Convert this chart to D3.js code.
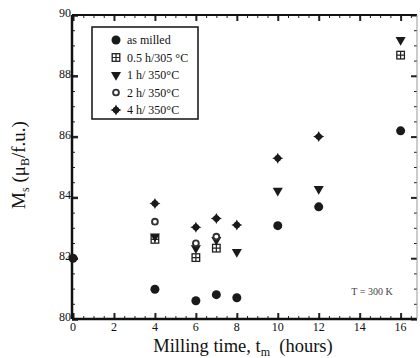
<!DOCTYPE html>
<html lang="en">
<head>
  <meta charset="UTF-8">
  <title>Ms vs milling time</title>
  <script src="https://d3js.org/d3.v7.min.js"></script>
  <style>
    body { margin: 0; background: #fff; }
  </style>
</head>
<body>
  <svg width="420" height="358"></svg>

  <script>
    // Data (time in hours, Ms in muB/f.u.)
    const asMilledT = [0, 4, 6, 7, 8, 10, 12, 16];
    const asMilledM = [82.0, 80.98, 80.6, 80.8, 80.7, 83.07, 83.69, 86.19];

    const h05T = [4, 6, 7, 16];
    const h05M = [82.62, 82.02, 82.33, 88.68];

    const h1T = [4, 6, 7, 8, 10, 12, 16];
    const h1M = [82.72, 82.33, 82.6, 82.21, 84.22, 84.28, 89.18];

    const h2T = [4, 6, 7];
    const h2M = [83.2, 82.49, 82.71];

    const h4T = [4, 6, 7, 8, 10, 12];
    const h4M = [83.8, 83.02, 83.31, 83.09, 85.29, 86.0];

    const seriesNames = ["as milled", "0.5 h/305 °C", "1 h/ 350°C", "2 h/ 350°C", "4 h/ 350°C"];
    const xTickValues = [0, 2, 4, 6, 8, 10, 12, 14, 16];
    const yTickValues = [80, 82, 84, 86, 88, 90];

    const FONT = "'Liberation Serif', 'DejaVu Serif', serif";

    const svg = d3.select("svg");
    const margin = {top: 15, right: 3, bottom: 39, left: 72};
    const width = +svg.attr("width");
    const height = +svg.attr("height");

    const x = d3.scaleLinear().domain([-0.05, 16.8]).range([margin.left, width - margin.right]);
    const y = d3.scaleLinear().domain([80, 90]).range([height - margin.bottom, margin.top]);

    // minor + major ticks on all four sides (inward)
    const xMinor = d3.range(0, 16.8, 0.5);
    const yMinor = d3.range(80, 90.01, 0.5);

    const gBottom = svg.append("g").attr("transform", `translate(0,${y(80)})`);
    gBottom.call(d3.axisTop(x).tickValues(xMinor).tickSize(3).tickFormat(""));
    gBottom.append("g").call(d3.axisTop(x).tickValues(xTickValues).tickSize(6).tickFormat(""))
      .selectAll("line").attr("stroke-width", 2);

    const gTop = svg.append("g").attr("transform", `translate(0,${y(90)})`);
    gTop.call(d3.axisBottom(x).tickValues(xMinor).tickSize(3).tickFormat(""));
    gTop.append("g").call(d3.axisBottom(x).tickValues(xTickValues).tickSize(6).tickFormat(""))
      .selectAll("line").attr("stroke-width", 2);

    const gLeft = svg.append("g").attr("transform", `translate(${x.range()[0]},0)`);
    gLeft.call(d3.axisRight(y).tickValues(yMinor).tickSize(3).tickFormat(""));
    gLeft.append("g").call(d3.axisRight(y).tickValues(yTickValues).tickSize(6).tickFormat(""))
      .selectAll("line").attr("stroke-width", 2.5);

    const gRight = svg.append("g").attr("transform", `translate(${x.range()[1]},0)`);
    gRight.call(d3.axisLeft(y).tickValues(yMinor).tickSize(3).tickFormat(""));
    gRight.append("g").call(d3.axisLeft(y).tickValues(yTickValues).tickSize(6).tickFormat(""))
      .selectAll("line").attr("stroke-width", 2);

    svg.selectAll(".domain").remove();
    svg.selectAll(".tick line").attr("stroke", "#222");

    // frame
    svg.append("line").attr("x1", x.range()[0]).attr("x2", x.range()[1])
      .attr("y1", y(80)).attr("y2", y(80)).attr("stroke", "#111").attr("stroke-width", 2.5);
    svg.append("line").attr("x1", x.range()[0]).attr("x2", x.range()[1])
      .attr("y1", y(90)).attr("y2", y(90)).attr("stroke", "#111").attr("stroke-width", 2);
    svg.append("line").attr("x1", x.range()[0]).attr("x2", x.range()[0])
      .attr("y1", y(90)).attr("y2", y(80)).attr("stroke", "#111").attr("stroke-width", 2.5);
    svg.append("line").attr("x1", x.range()[1]).attr("x2", x.range()[1])
      .attr("y1", y(90)).attr("y2", y(80)).attr("stroke", "#999").attr("stroke-width", 1);

    // tick labels
    svg.selectAll("text.xl").data(xTickValues).enter().append("text")
      .attr("class", "xl")
      .attr("x", d => x(d)).attr("y", y(80) + 12)
      .attr("text-anchor", "middle").attr("font-family", FONT).attr("font-size", 12)
      .attr("fill", "#111")
      .text(d => d);

    svg.selectAll("text.yl").data(yTickValues).enter().append("text")
      .attr("class", "yl")
      .attr("x", x.range()[0] - 1).attr("y", d => y(d) + 2)
      .attr("text-anchor", "end").attr("font-family", FONT).attr("font-size", 12)
      .attr("fill", "#111")
      .text(d => d);

    // axis titles
    const xt = svg.append("text").attr("x", 243).attr("y", 352)
      .attr("text-anchor", "middle").attr("font-family", FONT).attr("font-size", 18.5)
      .attr("fill", "#111");
    xt.append("tspan").text("Milling time, t");
    xt.append("tspan").attr("dy", 4).attr("font-size", 12).text("m");
    xt.append("tspan").attr("dy", -4).text("\u00a0 (hours)");

    const yt = svg.append("text").attr("transform", "translate(25,165) rotate(-90)")
      .attr("text-anchor", "middle").attr("font-family", FONT).attr("font-size", 19)
      .attr("fill", "#111");
    yt.append("tspan").text("M");
    yt.append("tspan").attr("dy", 4).attr("font-size", 12).text("s");
    yt.append("tspan").attr("dy", -4).text(" (\u03bc");
    yt.append("tspan").attr("dy", 4).attr("font-size", 12).text("B");
    yt.append("tspan").attr("dy", -4).text("/f.u.)");

    // marker drawers
    const star4 = "M0,-5.5L1.8,-1.8L5.5,0L1.8,1.8L0,5.5L-1.8,1.8L-5.5,0L-1.8,-1.8Z";
    const tri = d3.symbol().type(d3.symbolTriangle).size(44)();

    function drawMarker(g, type) {
      if (type === 0) {
        g.append("circle").attr("r", 4.5).attr("fill", "#1a1a1a");
      } else if (type === 1) {
        g.append("rect").attr("x", -3.8).attr("y", -3.8).attr("width", 7.6).attr("height", 7.6)
          .attr("fill", "#fff").attr("stroke", "#222").attr("stroke-width", 1.3);
        g.append("path").attr("d", "M0,-3.8V3.8M-3.8,0H3.8").attr("stroke", "#222").attr("stroke-width", 1.2);
      } else if (type === 2) {
        g.append("path").attr("d", tri).attr("transform", "rotate(180)").attr("fill", "#1a1a1a");
      } else if (type === 3) {
        g.append("circle").attr("r", 2.9).attr("fill", "#fff")
          .attr("stroke", "#333").attr("stroke-width", 1.9);
      } else {
        g.append("circle").attr("r", 3.2).attr("fill", "#1a1a1a");
        g.append("path").attr("d", star4).attr("fill", "#1a1a1a");
      }
    }

    const series = [
      {t: asMilledT, m: asMilledM},
      {t: h05T, m: h05M},
      {t: h1T, m: h1M},
      {t: h2T, m: h2M},
      {t: h4T, m: h4M}
    ];

    series.forEach((s, k) => {
      s.t.forEach((t, i) => {
        const g = svg.append("g").attr("transform", `translate(${x(t)},${y(s.m[i])})`);
        drawMarker(g, k);
      });
    });

    // legend
    const legend = svg.append("g");
    legend.append("rect").attr("x", 92).attr("y", 27).attr("width", 106).attr("height", 92)
      .attr("fill", "#fff").attr("stroke", "#111").attr("stroke-width", 1.5);
    seriesNames.forEach((name, k) => {
      const ly = 40 + k * 17.5;
      drawMarker(legend.append("g").attr("transform", `translate(116,${ly})`), k);
      legend.append("text").attr("x", 127).attr("y", ly + 4)
        .attr("font-family", FONT).attr("font-size", 12).attr("fill", "#111").text(name);
    });

    svg.append("text").attr("x", 372).attr("y", 295).attr("text-anchor", "middle")
      .attr("font-family", FONT).attr("font-size", 10).attr("fill", "#444").text("T = 300 K");
  </script>
</body>
</html>
